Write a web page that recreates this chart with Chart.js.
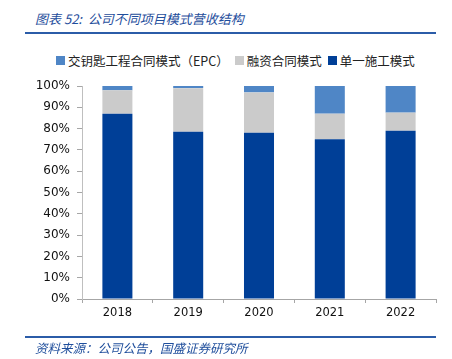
<!DOCTYPE html>
<html>
<head>
<meta charset="utf-8">
<script src="https://cdn.jsdelivr.net/npm/chart.js@4/dist/chart.umd.min.js"></script>
<style>
  body { margin: 0; background: #fff; }
  #wrap { position: relative; width: 452px; height: 359px; overflow: hidden; }
  #myChart { position: absolute; left: 0; top: 0; }
  .title, .source { position: absolute; left: 35px; font-family: "Noto Sans CJK SC", sans-serif; font-style: italic; color: #1f4e9c; }
  .title { top: 9px; font-size: 13px; }
  .source { top: 338px; font-size: 12.5px; }
  .rule { position: absolute; left: 25px; width: 411px; height: 2px; background: #2b5ca8; }
  #legend { position: absolute; top: 51px; left: 56px; display: flex; align-items: center; height: 18px; font-family: "Noto Sans CJK SC", sans-serif; font-size: 12.5px; color: #222; white-space: nowrap; }
  #legend span.box { display: inline-block; width: 9px; height: 9px; margin-right: 3px; }
  #legend span.item { display: flex; align-items: center; margin-right: 6px; }
</style>
</head>
<body>
<div id="wrap">
  <div class="title">图表 52:&nbsp; 公司不同项目模式营收结构</div>
  <div class="rule" style="top:32px"></div>
  <div id="legend"></div>
  <canvas id="myChart" width="452" height="359"></canvas>
  <div class="rule" style="top:336px"></div>
  <div class="source">资料来源：公司公告，国盛证券研究所</div>
</div>
<script>
// data (percent of revenue)
const years = ['2018', '2019', '2020', '2021', '2022']
const single = [87, 78.5, 78, 75, 79]      // 单一施工模式
const finance = [11, 20.5, 19, 12, 8.5]    // 融资合同模式
const epc = [2, 1, 3, 13, 12.5]            // 交钥匙工程合同模式（EPC）
const yTicks = [0, 10, 20, 30, 40, 50, 60, 70, 80, 90, 100]

const series = [
  { label: '交钥匙工程合同模式（EPC）', data: epc, color: '#4f86c6' },
  { label: '融资合同模式', data: finance, color: '#cbcbcb' },
  { label: '单一施工模式', data: single, color: '#003f97' }
]

// html legend
let legend = document.querySelector('#legend')
series.forEach(s => {
  let item = document.createElement('span')
  item.className = 'item'
  item.innerHTML = `<span class="box" style="background:${s.color}"></span>${s.label}`
  legend.append(item)
})

var ctx = document.getElementById('myChart').getContext('2d');
var chart = new Chart(ctx, {
  type: 'bar',
  data: {
    labels: years,
    // stack order: bottom first
    datasets: series.slice().reverse().map(s => ({
      label: s.label,
      data: s.data,
      backgroundColor: s.color,
      borderWidth: 0,
      categoryPercentage: 1,
      barPercentage: 0.424
    }))
  },
  options: {
    responsive: false,
    animation: false,
    layout: { padding: { left: 0, top: 86, right: 16, bottom: 31 } },
    plugins: { legend: { display: false }, tooltip: { enabled: false } },
    scales: {
      x: {
        stacked: true,
        afterFit: scale => { scale.height = 29 },
        border: { color: '#a6a6a6', width: 1 },
        grid: { offset: true, drawOnChartArea: false, tickLength: 4, color: '#a6a6a6' },
        ticks: { color: '#111', font: { family: 'DejaVu Sans', size: 11.5 }, padding: 3 }
      },
      y: {
        stacked: true,
        min: 0,
        max: 100,
        afterFit: scale => { scale.width = 82 },
        afterBuildTicks: scale => { scale.ticks = yTicks.map(v => ({ value: v })) },
        border: { color: '#bfbfbf', width: 1 },
        grid: { drawOnChartArea: false, tickLength: 5, color: '#a6a6a6' },
        ticks: { color: '#111', font: { family: 'DejaVu Sans', size: 12 }, padding: 7, callback: v => v + '%' }
      }
    }
  }
});
</script>
</body>
</html>
